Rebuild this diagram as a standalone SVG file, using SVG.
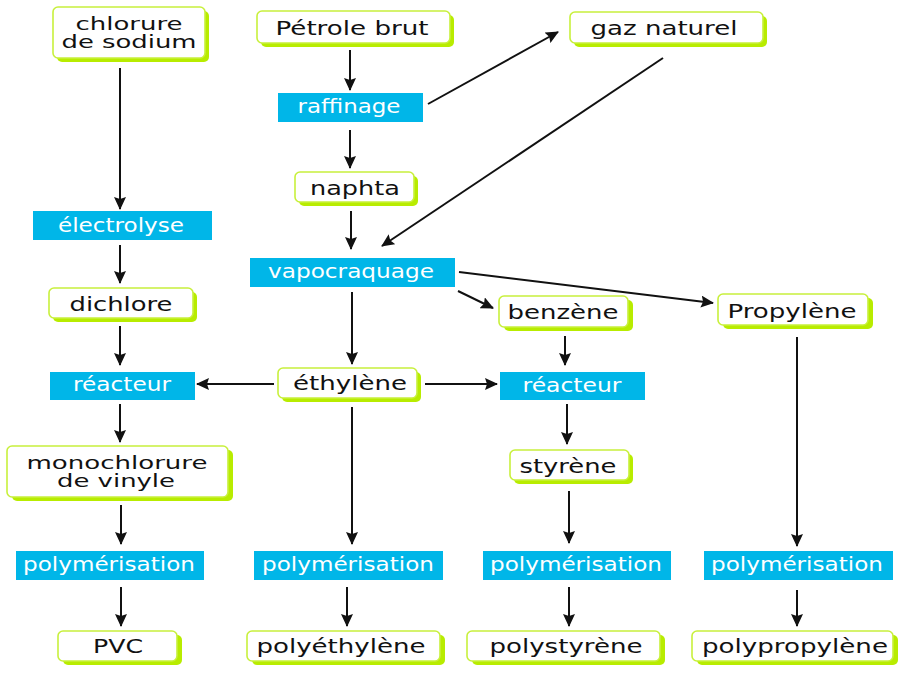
<svg xmlns="http://www.w3.org/2000/svg" width="901" height="675" viewBox="0 0 901 675">
<defs>
<style>
.sh{fill:#b8ec00;}
.bx{fill:#fff;stroke:#c8f03c;stroke-width:1.6;}
.pr{fill:#00b6e8;}
.t{font-family:"DejaVu Sans","Liberation Sans",sans-serif;font-size:19px;fill:#111;text-anchor:middle;}
.tw{font-family:"DejaVu Sans","Liberation Sans",sans-serif;font-size:19px;fill:#fff;text-anchor:middle;}
.t2{font-family:"DejaVu Sans","Liberation Sans",sans-serif;font-size:18px;fill:#111;text-anchor:middle;}
.c line{stroke:#111;stroke-width:2;marker-end:url(#ah);}
</style>
<marker id="ah" markerUnits="userSpaceOnUse" markerWidth="13" markerHeight="12" refX="12" refY="6" orient="auto" viewBox="0 0 13 12">
<path d="M0,0 L13,6 L0,12 L2,6 z" fill="#111"/>
</marker>
</defs>
<rect width="901" height="675" fill="#fff"/>

<g class="c" id="connectors">
<line x1="120" y1="68" x2="120" y2="209"/>
<line x1="350" y1="50" x2="350" y2="90"/>
<line x1="428" y1="104" x2="558" y2="32"/>
<line x1="663" y1="58" x2="382" y2="246"/>
<line x1="350" y1="130" x2="350" y2="168"/>
<line x1="351" y1="211" x2="351" y2="249"/>
<line x1="120" y1="245" x2="120" y2="283"/>
<line x1="120" y1="326" x2="120" y2="365"/>
<line x1="352" y1="292" x2="352" y2="364"/>
<line x1="458" y1="291" x2="493" y2="308"/>
<line x1="459" y1="272" x2="713" y2="303"/>
<line x1="274" y1="384" x2="197" y2="384"/>
<line x1="425" y1="384" x2="497" y2="384"/>
<line x1="565" y1="336" x2="565" y2="365"/>
<line x1="797" y1="337" x2="797" y2="546"/>
<line x1="120" y1="404" x2="120" y2="442"/>
<line x1="567" y1="404" x2="567" y2="444"/>
<line x1="352" y1="407" x2="352" y2="544"/>
<line x1="121" y1="505" x2="121" y2="544"/>
<line x1="569" y1="491" x2="569" y2="543"/>
<line x1="121" y1="587" x2="121" y2="626"/>
<line x1="347" y1="587" x2="347" y2="626"/>
<line x1="569" y1="587" x2="569" y2="626"/>
<line x1="797" y1="590" x2="797" y2="626"/>
</g>

<g id="chlorure">
<rect class="sh" x="57" y="11" width="152" height="51" rx="5"/>
<rect class="bx" x="53" y="7" width="152" height="51" rx="5"/>
<text class="t2" x="129" y="30" textLength="107" lengthAdjust="spacingAndGlyphs">chlorure</text>
<text class="t2" x="129" y="48" textLength="135" lengthAdjust="spacingAndGlyphs">de sodium</text>
</g>
<g id="petrole">
<rect class="sh" x="261" y="15" width="193" height="32" rx="5"/>
<rect class="bx" x="257" y="11" width="193" height="32" rx="5"/>
<text class="t" x="352" y="35" textLength="153" lengthAdjust="spacingAndGlyphs">Pétrole brut</text>
</g>
<g id="gaz">
<rect class="sh" x="574" y="16" width="193" height="31" rx="5"/>
<rect class="bx" x="570" y="12" width="193" height="31" rx="5"/>
<text class="t" x="664" y="35" textLength="147" lengthAdjust="spacingAndGlyphs">gaz naturel</text>
</g>
<g id="raffinage">
<rect class="pr" x="278" y="93" width="145" height="29"/>
<text class="tw" x="349" y="113" textLength="103" lengthAdjust="spacingAndGlyphs">raffinage</text>
</g>
<g id="naphta">
<rect class="sh" x="299" y="176" width="119" height="30" rx="5"/>
<rect class="bx" x="295" y="172" width="119" height="30" rx="5"/>
<text class="t" x="355" y="195" textLength="90" lengthAdjust="spacingAndGlyphs">naphta</text>
</g>
<g id="electrolyse">
<rect class="pr" x="33" y="211" width="179" height="29"/>
<text class="tw" x="121" y="232" textLength="126" lengthAdjust="spacingAndGlyphs">électrolyse</text>
</g>
<g id="vapocraquage">
<rect class="pr" x="250" y="258" width="205" height="29"/>
<text class="tw" x="351" y="278" textLength="166" lengthAdjust="spacingAndGlyphs">vapocraquage</text>
</g>
<g id="dichlore">
<rect class="sh" x="53" y="292" width="144" height="30" rx="5"/>
<rect class="bx" x="49" y="288" width="144" height="30" rx="5"/>
<text class="t" x="121" y="311" textLength="103" lengthAdjust="spacingAndGlyphs">dichlore</text>
</g>
<g id="reacteur1">
<rect class="pr" x="50" y="372" width="145" height="28"/>
<text class="tw" x="122" y="391" textLength="98" lengthAdjust="spacingAndGlyphs">réacteur</text>
</g>
<g id="ethylene">
<rect class="sh" x="282" y="372" width="139" height="30" rx="5"/>
<rect class="bx" x="278" y="368" width="139" height="30" rx="5"/>
<text class="t" x="350" y="390" textLength="114" lengthAdjust="spacingAndGlyphs">éthylène</text>
</g>
<g id="benzene">
<rect class="sh" x="504" y="300" width="129" height="31" rx="5"/>
<rect class="bx" x="499" y="296" width="129" height="31" rx="5"/>
<text class="t" x="563" y="319" textLength="111" lengthAdjust="spacingAndGlyphs">benzène</text>
</g>
<g id="propylene">
<rect class="sh" x="723" y="298" width="150" height="31" rx="5"/>
<rect class="bx" x="718" y="294" width="150" height="31" rx="5"/>
<text class="t" x="792" y="318" textLength="129" lengthAdjust="spacingAndGlyphs">Propylène</text>
</g>
<g id="reacteur2">
<rect class="pr" x="500" y="372" width="145" height="28"/>
<text class="tw" x="572" y="392" textLength="99" lengthAdjust="spacingAndGlyphs">réacteur</text>
</g>
<g id="monochlorure">
<rect class="sh" x="12" y="450" width="221" height="51" rx="5"/>
<rect class="bx" x="7" y="446" width="221" height="51" rx="5"/>
<text class="t2" x="117" y="469" textLength="181" lengthAdjust="spacingAndGlyphs">monochlorure</text>
<text class="t2" x="116" y="487" textLength="118" lengthAdjust="spacingAndGlyphs">de vinyle</text>
</g>
<g id="styrene">
<rect class="sh" x="514" y="454" width="119" height="30" rx="5"/>
<rect class="bx" x="510" y="450" width="119" height="30" rx="5"/>
<text class="t" x="568" y="473" textLength="97" lengthAdjust="spacingAndGlyphs">styrène</text>
</g>
<g id="polym1">
<rect class="pr" x="16" y="551" width="188" height="29"/>
<text class="tw" x="109" y="571" textLength="172" lengthAdjust="spacingAndGlyphs">polymérisation</text>
</g>
<g id="polym2">
<rect class="pr" x="254" y="551" width="189" height="29"/>
<text class="tw" x="348" y="571" textLength="172" lengthAdjust="spacingAndGlyphs">polymérisation</text>
</g>
<g id="polym3">
<rect class="pr" x="483" y="551" width="188" height="29"/>
<text class="tw" x="576" y="571" textLength="172" lengthAdjust="spacingAndGlyphs">polymérisation</text>
</g>
<g id="polym4">
<rect class="pr" x="704" y="551" width="189" height="29"/>
<text class="tw" x="797" y="571" textLength="172" lengthAdjust="spacingAndGlyphs">polymérisation</text>
</g>
<g id="pvc">
<rect class="sh" x="63" y="635" width="119" height="30" rx="5"/>
<rect class="bx" x="58" y="631" width="119" height="30" rx="5"/>
<text class="t" x="118" y="653" textLength="50" lengthAdjust="spacingAndGlyphs">PVC</text>
</g>
<g id="polyethylene">
<rect class="sh" x="252" y="635" width="193" height="30" rx="5"/>
<rect class="bx" x="247" y="631" width="193" height="30" rx="5"/>
<text class="t" x="341" y="653" textLength="169" lengthAdjust="spacingAndGlyphs">polyéthylène</text>
</g>
<g id="polystyrene">
<rect class="sh" x="472" y="635" width="193" height="30" rx="5"/>
<rect class="bx" x="467" y="631" width="193" height="30" rx="5"/>
<text class="t" x="566" y="653" textLength="153" lengthAdjust="spacingAndGlyphs">polystyrène</text>
</g>
<g id="polypropylene">
<rect class="sh" x="697" y="635" width="201" height="30" rx="5"/>
<rect class="bx" x="692" y="631" width="201" height="30" rx="5"/>
<text class="t" x="795" y="653" textLength="186" lengthAdjust="spacingAndGlyphs">polypropylène</text>
</g>
</svg>
